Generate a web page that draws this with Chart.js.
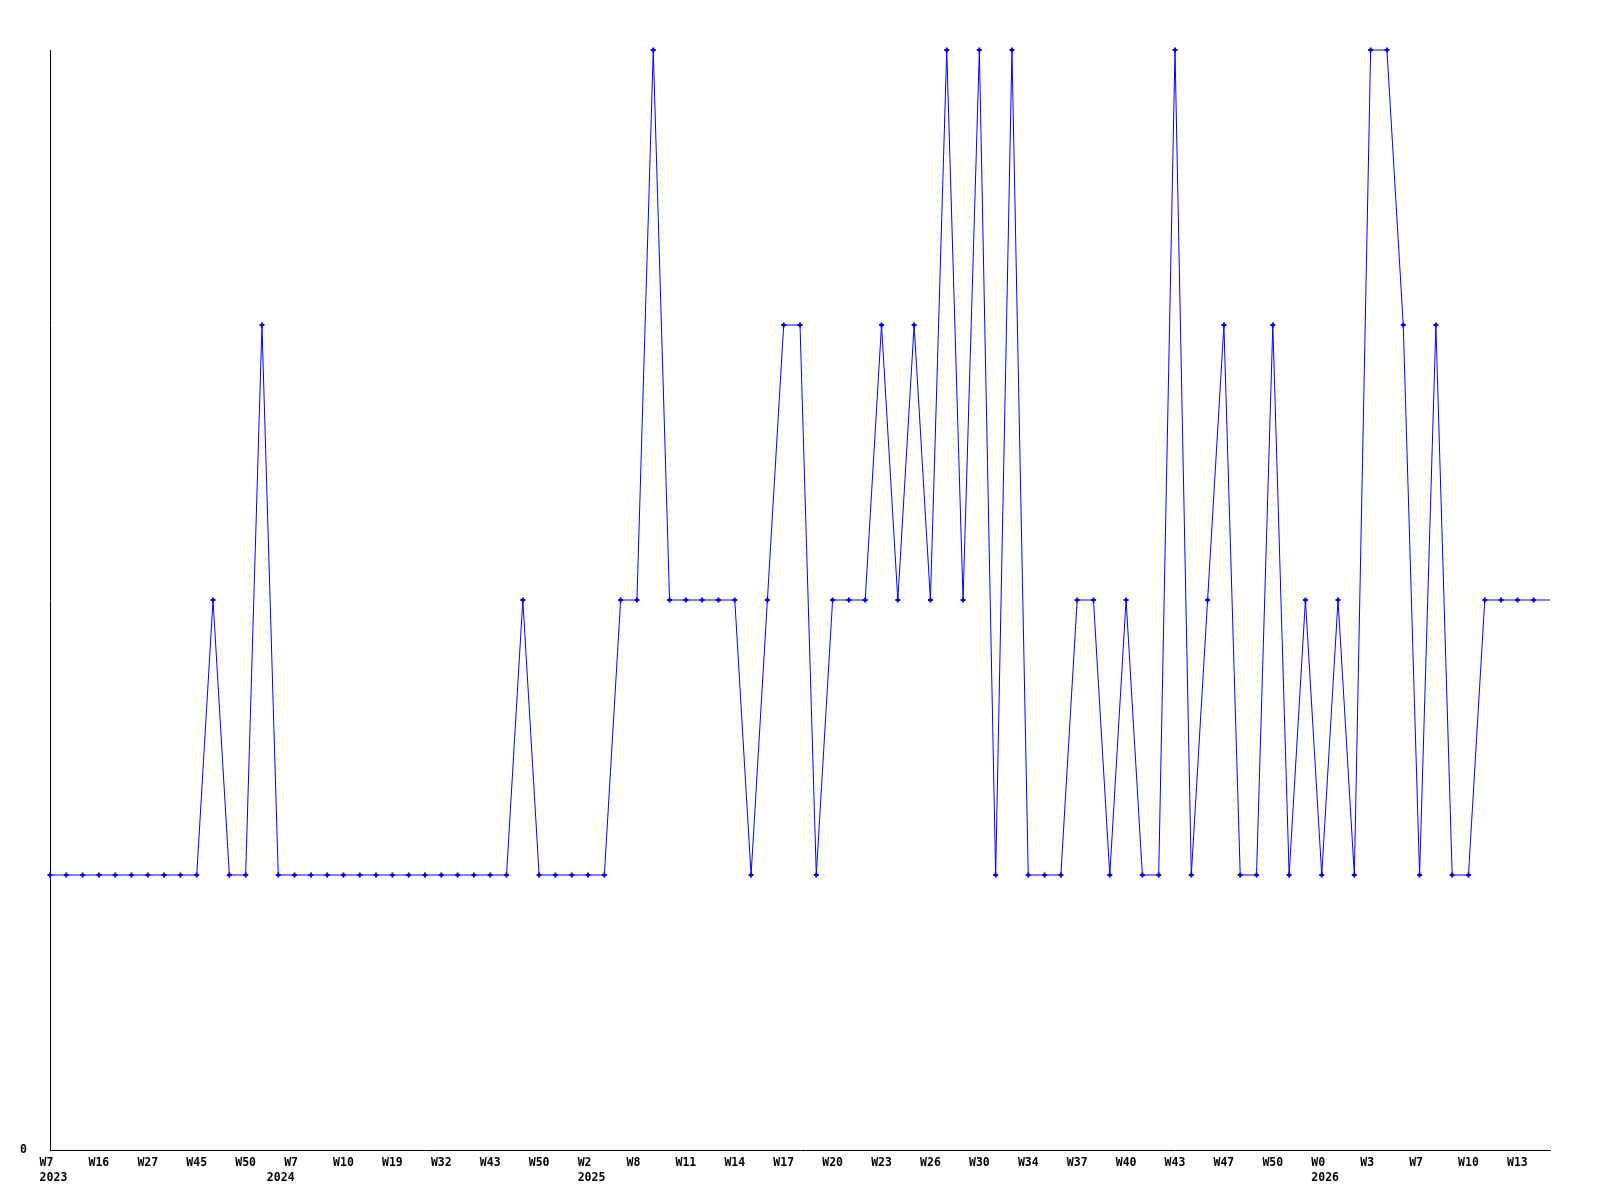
<!DOCTYPE html>
<html>
<head>
<meta charset="utf-8">
<script src="https://cdn.jsdelivr.net/npm/chart.js@4/dist/chart.umd.min.js"></script>
<style>
  html, body { margin: 0; padding: 0; background: #fff; }
  #wrap { width: 1600px; height: 1200px; }
</style>
</head>
<body>
<div id="wrap"><canvas id="weekChart" width="1600" height="1200"></canvas></div>
<script>
// weekly values, one per point
const values = [
  1, 1, 1, 1, 1, 1, 1, 1, 1, 1,
  2, 1, 1, 3, 1, 1, 1, 1, 1, 1,
  1, 1, 1, 1, 1, 1, 1, 1, 1, 2,
  1, 1, 1, 1, 1, 2, 2, 4, 2, 2,
  2, 2, 2, 1, 2, 3, 3, 1, 2, 2,
  2, 3, 2, 3, 2, 4, 2, 4, 1, 4,
  1, 1, 1, 2, 2, 1, 2, 1, 1, 4,
  1, 2, 3, 1, 1, 3, 1, 2, 1, 2,
  1, 4, 4, 3, 1, 3, 1, 1, 2, 2,
  2, 2, 2
];

// one tick label every third point
const tickLabels = [
  "W7", "W16", "W27", "W45", "W50", "W7", "W10", "W19", "W32", "W43",
  "W50", "W2", "W8", "W11", "W14", "W17", "W20", "W23", "W26", "W30",
  "W34", "W37", "W40", "W43", "W47", "W50", "W0", "W3", "W7", "W10", "W13"
];
const yearTicks = [0, 5, 11, 26];
const years = ["2023", "2024", "2025", "2026"];

const yMin = 0;
const yMax = 4;
const tickEvery = 3;

const categories = values.map((v, i) => i);

const monoFont = {
  family: "'DejaVu Sans Mono', 'Liberation Mono', monospace",
  size: 11.5,
  weight: "bold",
  lineHeight: "15px",
};

function xTickLabel(i) {
  if (i % tickEvery !== 0) return "";
  const k = i / tickEvery;
  const week = tickLabels[k];
  if (week === undefined) return "";
  // pad to 3 chars so short labels sit like the original
  const w = week.padEnd(3, " ");
  const yi = yearTicks.indexOf(k);
  if (yi < 0) return w;
  const y = years[yi];
  return [w, y === "2024" ? y.padEnd(8, " ") : y.padStart(5, " ")];
}

new Chart(document.getElementById("weekChart").getContext("2d"), {
  type: "line",
  data: {
    labels: categories,
    datasets: [
      {
        data: values,
        borderColor: "#0000ff",
        backgroundColor: "#0000ff",
        borderWidth: 1,
        tension: 0,
        fill: false,
        clip: false,
        pointStyle: "cross",
        pointRadius: (ctx) => (ctx.dataIndex === values.length - 1 ? 0 : 2.5),
        pointBorderWidth: 2,
        pointBorderColor: "#0000ff",
      },
    ],
  },
  options: {
    responsive: false,
    animation: false,
    devicePixelRatio: 1,
    layout: { padding: { top: 50, right: 50, left: 0, bottom: 0 } },
    plugins: {
      legend: { display: false },
      tooltip: { enabled: false },
    },
    scales: {
      x: {
        type: "category",
        offset: false,
        grid: { display: false, drawTicks: false },
        border: { display: true, color: "#000", width: 1 },
        ticks: {
          autoSkip: false,
          maxRotation: 0,
          minRotation: 0,
          padding: 6,
          color: "#000",
          font: monoFont,
          callback: (value, index) => xTickLabel(index),
        },
        afterFit: (scale) => {
          scale.height = 50;
        },
      },
      y: {
        min: yMin,
        max: yMax,
        grid: { display: false, drawTicks: false },
        border: { display: true, color: "#000", width: 1 },
        ticks: {
          padding: 23,
          color: "#000",
          font: monoFont,
        },
        afterBuildTicks: (scale) => {
          scale.ticks = [{ value: yMin }];
        },
        afterFit: (scale) => {
          scale.width = 50;
        },
      },
    },
  },
});
</script>
</body>
</html>
